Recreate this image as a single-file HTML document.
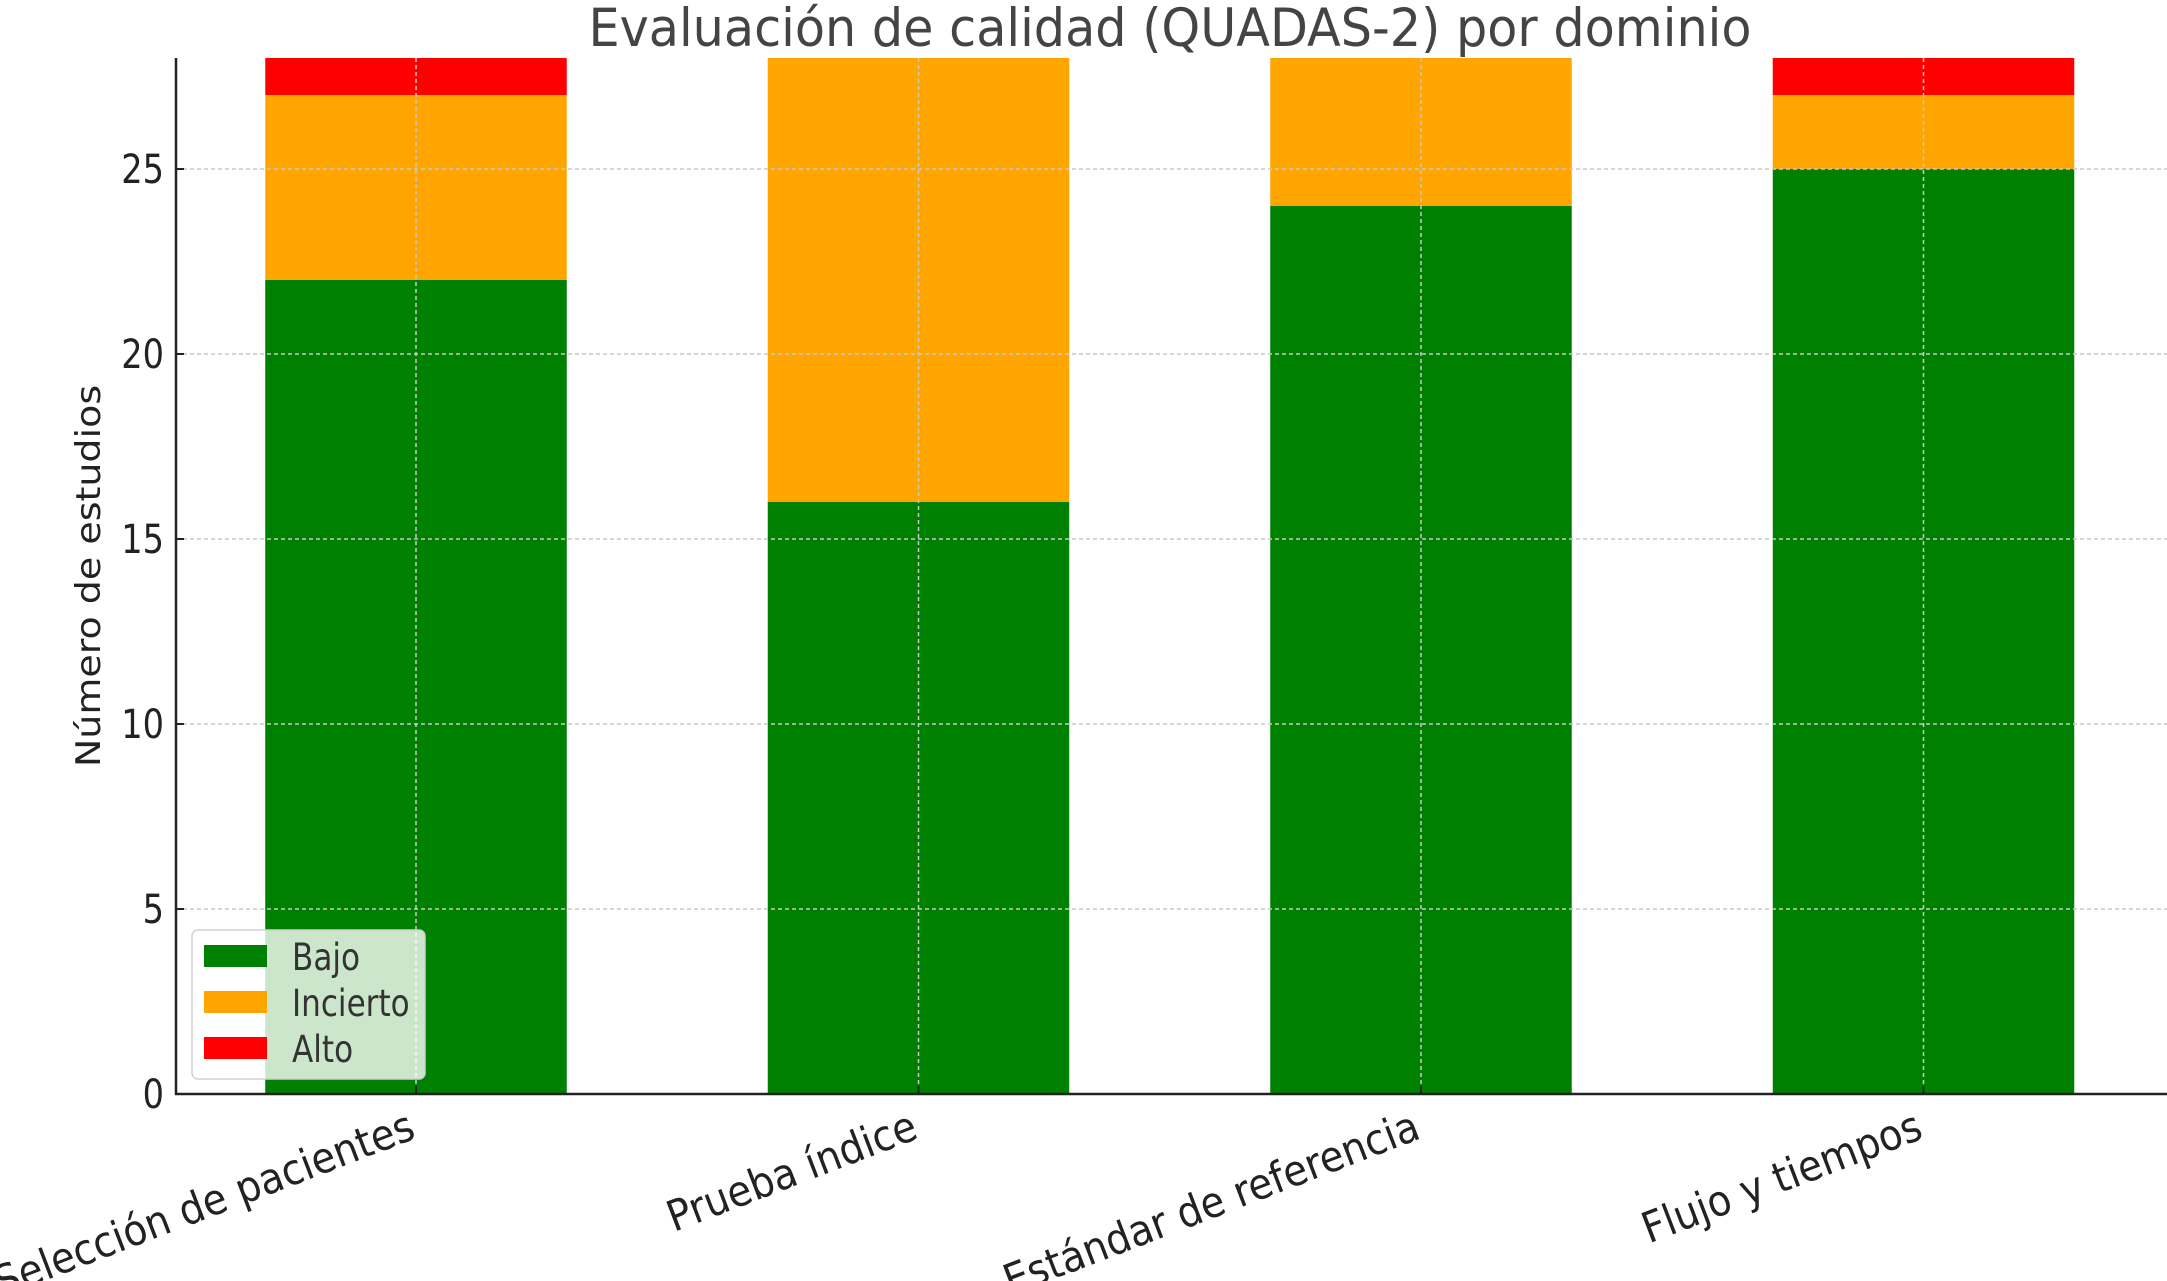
<!DOCTYPE html>
<html><head><meta charset="utf-8"><style>body{margin:0;background:#fff}svg{display:block;font-family:"DejaVu Sans","Liberation Sans",sans-serif}</style></head>
<body>
<svg id="chart" width="2167" height="1281" viewBox="0 0 2167 1281">
<text transform="translate(1170,46) scale(0.93,1)" font-size="53" fill="#444" text-anchor="middle">Evaluación de calidad (QUADAS-2) por dominio</text>
<text transform="translate(100,576) rotate(-90) scale(1,0.9)" font-size="38" fill="#222" text-anchor="middle">Número de estudios</text>
<g id="grid"></g><g id="bars"></g><g id="axes"></g><g id="legend"></g>
</svg>
<script>
const categories = ["Selección de pacientes","Prueba índice","Estándar de referencia","Flujo y tiempos"];
const bajo = [22,16,24,25];
const incierto = [5,12,4,2];
const alto = [1,0,0,1];
const yTicks = [0,5,10,15,20,25];
const seriesNames = ["Bajo","Incierto","Alto"];
const seriesColors = ["#008000","#FFA500","#FF0000"];

const NS="http://www.w3.org/2000/svg";
const x0=176,x1=2167,yTop=58,yBot=1094,yMax=28;
const step=502.5,first=416;
function X(i){return first+i*step;}
function Y(v){return yBot-(v/yMax)*(yBot-yTop);}
function mk(t,a,p){const e=document.createElementNS(NS,t);for(const k in a)e.setAttribute(k,a[k]);p.appendChild(e);return e;}
const grid=document.getElementById('grid'),bars=document.getElementById('bars'),axes=document.getElementById('axes'),leg=document.getElementById('legend');
yTicks.forEach(v=>{
  if(v>0){const g=mk('line',{x1:x0,x2:x1,y1:Y(v),y2:Y(v),stroke:'#c8c8c8','stroke-width':1.5,'stroke-dasharray':'4,3'},grid);
  
  }
  const t=mk('line',{x1:x0,x2:x0+8,y1:Y(v),y2:Y(v),stroke:'#222','stroke-width':2},axes);
  
  
  const l=mk('text',{transform:`translate(${x0-12},${Y(v)+14}) scale(0.84,1)`,'font-size':40,fill:'#222','text-anchor':'end'},axes);l.textContent=v;
  
  
});
const series=[bajo,incierto,alto];
const bw=step*0.6;
categories.forEach((c,i)=>{
  let base=0;
  series.forEach((s,k)=>{
    if(s[i]>0){const r=mk('rect',{x:X(i)-bw/2,y:Y(base+s[i]),width:bw,height:Y(base)-Y(base+s[i]),fill:seriesColors[k]},bars);
    
    }
    base+=s[i];
  });
  const g=mk('line',{x1:X(i),x2:X(i),y1:yTop,y2:yBot,stroke:'#c8c8c8','stroke-width':1.5,'stroke-dasharray':'4,3'},grid);
  
  
  const t=mk('line',{x1:X(i),x2:X(i),y1:yBot,y2:yBot-8,stroke:'#222','stroke-width':2},axes);
  
  
  const l=mk('text',{transform:`translate(${X(i)-10},${yBot+14}) rotate(-21) scale(1.02,1.12)`,'font-size':38,fill:'#222','text-anchor':'end','dominant-baseline':'hanging'},axes);l.textContent=c;
  
  
});
grid.parentNode.insertBefore(bars,grid);
const ax=mk('line',{x1:x0,x2:x0,y1:yTop,y2:yBot+1,stroke:'#222','stroke-width':2.5},axes);


const bx=mk('line',{x1:x0-1,x2:x1,y1:yBot,y2:yBot,stroke:'#222','stroke-width':2.5},axes);


const box=mk('rect',{x:192,y:930,width:233,height:149,rx:6,fill:'rgba(255,255,255,0.8)',stroke:'#d0d0d0','stroke-width':1.5},leg);


seriesNames.forEach((n,k)=>{
  const y=945+k*46;
  const p=mk('rect',{x:204,y:y,width:63,height:22,fill:seriesColors[k]},leg);
  
  
  const t=mk('text',{transform:`translate(292,${y+25}) scale(0.84,1)`,'font-size':37,fill:'#333'},leg);t.textContent=n;
  
  
});
</script>
</body></html>
